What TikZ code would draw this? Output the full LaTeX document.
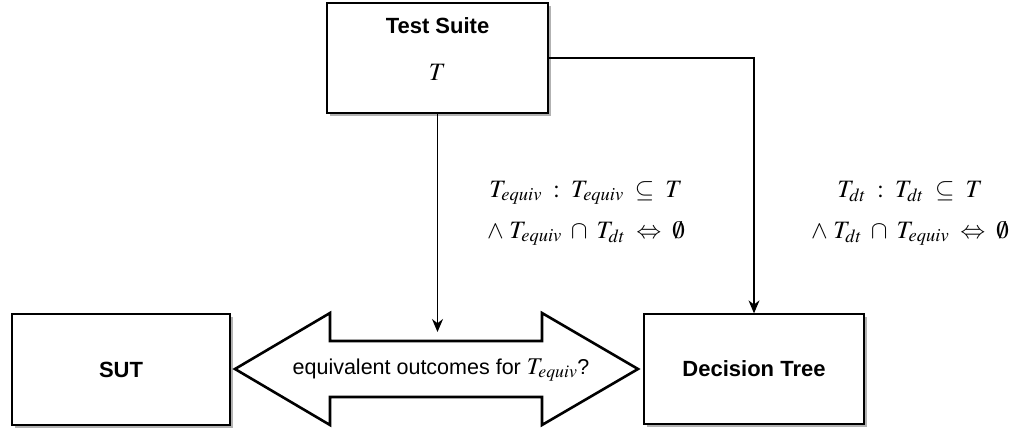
\documentclass[tikz,border=0pt]{standalone}
\usepackage{mathptmx}
\usepackage[no-math]{fontspec}
\setmainfont{Liberation Sans}
\usetikzlibrary{shadows,arrows.meta}
\begin{document}
\begin{tikzpicture}[x=1pt,y=-1pt,
  box/.style={draw, line width=1.3pt, fill=white, inner sep=0pt,
    drop shadow={shadow xshift=3pt, shadow yshift=-3pt, fill=black!30, opacity=1}},
  conn/.style={line width=1.2pt, -{Stealth[length=13pt,width=11pt]}},
  bold/.style={font=\fontsize{22}{26}\selectfont\bfseries},
  plain/.style={font=\fontsize{21.5}{26}\selectfont},
  mathlbl/.style={font=\fontsize{25}{30}\selectfont},
  formula/.style={anchor=base, inner sep=1pt, font=\fontsize{25}{30}\selectfont},
  bigarrow/.style={draw, line width=2.6pt, line join=miter, fill=white}]
\useasboundingbox (0,0) rectangle (1019,433);

% boxes
\node[box, minimum width=221pt, minimum height=110pt] (ts) at (437.5,58) {};
\node[bold, anchor=base] (tstitle) at (437.5,34) {Test Suite};
\node[mathlbl, anchor=base] (tsset) at (437.5,81) {$T$};
\node[box, minimum width=218pt, minimum height=111pt] (sut) at (121,369.5) {};
\node[bold] (sutlbl) at (121,369.5) {SUT};
\node[box, minimum width=220pt, minimum height=110pt] (dt) at (754,369) {};
\node[bold] (dtlbl) at (754,369) {Decision Tree};

% two-headed comparison arrow
\draw[bigarrow] (235,369) -- (330,313) -- (330,341) -- (542,341) -- (542,313)
  -- (638,369) -- (542,425) -- (542,397) -- (330,397) -- (330,425) -- cycle;
\node[plain] (eq) at (441,370) {equivalent outcomes for {\fontsize{24}{28}\selectfont$T_{equiv}$}?};

% connectors
\coordinate (eqtop) at (437.5,332);
\draw[conn] (ts.south) -- (eqtop);
\draw[conn] (ts.east) -| (dt.north);

% subset conditions
\node[formula] (fla) at (586,197) {$T_{equiv} \;:\; T_{equiv} \;\subseteq\; T$};
\node[formula] (flb) at (586,238) {$\wedge\; T_{equiv} \;\cap\; T_{dt} \;\Leftrightarrow\; \emptyset$};
\node[formula] (fra) at (910,197) {$T_{dt} \;:\; T_{dt} \;\subseteq\; T$};
\node[formula] (frb) at (910,238) {$\wedge\; T_{dt} \;\cap\; T_{equiv} \;\Leftrightarrow\; \emptyset$};
\end{tikzpicture}
\end{document}
